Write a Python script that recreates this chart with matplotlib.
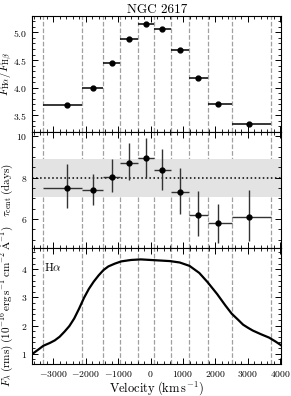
import numpy as np
import matplotlib.pyplot as plt
from matplotlib.ticker import MultipleLocator

plt.rcParams['font.family'] = 'serif'
plt.rcParams['font.serif'] = ['cmr10', 'DejaVu Serif']
plt.rcParams['mathtext.fontset'] = 'cm'
plt.rcParams['axes.formatter.use_mathtext'] = True

# --- data ---
bin_edges = [-3298, -2117, -1471, -938, -394, 117, 631, 1185, 1778, 2517, 3698]
vel_center = [-2578, -1769, -1194, -662, -148, 363, 908, 1462, 2086, 3040]

ratio = [3.69, 3.99, 4.44, 4.88, 5.15, 5.07, 4.69, 4.17, 3.71, 3.35]
ratio_err = [0.02, 0.02, 0.02, 0.02, 0.02, 0.02, 0.02, 0.02, 0.02, 0.02]

tau = [7.52, 7.39, 8.05, 8.70, 8.96, 8.37, 7.33, 6.20, 5.81, 6.10]
tau_up = [1.12, 0.80, 0.83, 0.95, 0.97, 1.03, 1.12, 1.15, 0.94, 1.29]
tau_lo = [0.97, 0.69, 0.72, 0.82, 0.96, 0.98, 1.10, 1.01, 0.94, 1.16]
tau_all = 8.0
tau_all_up = 0.88
tau_all_lo = 0.93

rms_vel = [-3650, -3450, -3300, -3100, -2950, -2800, -2650, -2500, -2350, -2200,
           -2050, -1900, -1750, -1600, -1450, -1300, -1100, -900, -600, -300,
           0, 300, 600, 900, 1200, 1500, 1750, 2050, 2300, 2500,
           2700, 2850, 3000, 3150, 3400, 3650, 3850, 4030]
rms_flux = [0.98, 1.15, 1.28, 1.38, 1.47, 1.60, 1.78, 1.98, 2.25, 2.60,
            2.98, 3.30, 3.56, 3.78, 3.97, 4.10, 4.20, 4.28, 4.33, 4.35,
            4.33, 4.31, 4.29, 4.24, 4.12, 3.87, 3.55, 3.12, 2.72, 2.42,
            2.20, 2.03, 1.92, 1.82, 1.69, 1.57, 1.43, 1.29]

# --- layout ---
fig = plt.figure(figsize=(2.91, 3.96), dpi=100)
gs = fig.add_gridspec(3, 1, left=0.110, right=0.967, top=0.960, bottom=0.080, hspace=0)
ax1 = fig.add_subplot(gs[0])
ax2 = fig.add_subplot(gs[1], sharex=ax1)
ax3 = fig.add_subplot(gs[2], sharex=ax1)

edges = np.array(bin_edges)
vc = np.array(vel_center)
xerr = [vc - edges[:-1], edges[1:] - vc]

for ax in (ax1, ax2, ax3):
    for e in bin_edges:
        ax.axvline(e, color='#a0a0a0', ls='--', lw=0.9, zorder=0)
    ax.tick_params(which='both', direction='in', top=True, right=True, labelsize=7)
    ax.tick_params(which='major', length=4, width=0.7)
    ax.tick_params(which='minor', length=2, width=0.6)
    ax.xaxis.set_major_locator(MultipleLocator(1000))
    ax.xaxis.set_minor_locator(MultipleLocator(200))
    for s in ax.spines.values():
        s.set_linewidth(0.8)

# top: Balmer decrement
ax1.errorbar(vc, ratio, xerr=xerr, yerr=ratio_err, fmt='o', color='black',
             ms=3.5, lw=1.1, capsize=0)
ax1.set_ylim(3.2, 5.3)
ax1.yaxis.set_major_locator(MultipleLocator(0.5))
ax1.yaxis.set_minor_locator(MultipleLocator(0.1))
ax1.set_ylabel(r'$F_{\rm H\alpha}/F_{\rm H\beta}$', fontsize=8)
ax1.set_title('NGC 2617', fontsize=9.5, pad=2)

# middle: centroid lags
ax2.axhspan(tau_all - tau_all_lo, tau_all + tau_all_up, color='#e3e3e3', lw=0, zorder=0)
ax2.axhline(tau_all, color='black', ls=':', lw=1.1, zorder=1)
ax2.errorbar(vc, tau, xerr=xerr, yerr=[tau_lo, tau_up], fmt='o', color='black',
             ecolor='#333333', ms=3.5, lw=1.0, capsize=0, zorder=3)
ax2.set_ylim(4.6, 10.2)
ax2.yaxis.set_major_locator(MultipleLocator(2))
ax2.yaxis.set_minor_locator(MultipleLocator(0.5))
ax2.set_ylabel(r'$\tau_{\rm cent}\;({\rm days})$', fontsize=8)

# bottom: rms spectrum
ax3.plot(rms_vel, rms_flux, color='black', lw=1.6)
ax3.set_ylim(0.62, 4.75)
ax3.yaxis.set_major_locator(MultipleLocator(1))
ax3.yaxis.set_minor_locator(MultipleLocator(0.2))
ax3.text(0.05, 0.80, r'H$\alpha$', transform=ax3.transAxes, fontsize=8.5)
ax3.set_ylabel(r'$F_\lambda\;({\rm rms})\;(10^{-16}\,{\rm erg\,s^{-1}\,cm^{-2}\,\AA^{-1}})$',
               fontsize=8)
ax3.set_xlabel(r'Velocity$\;({\rm km\,s^{-1}})$', fontsize=9, labelpad=0)
ax3.set_xlim(-3650, 4030)

for ax in (ax1, ax2):
    plt.setp(ax.get_xticklabels(), visible=False)
for ax in (ax1, ax2, ax3):
    ax.yaxis.set_label_coords(-0.068, 0.5)

fig.savefig('out.png', dpi=100)
